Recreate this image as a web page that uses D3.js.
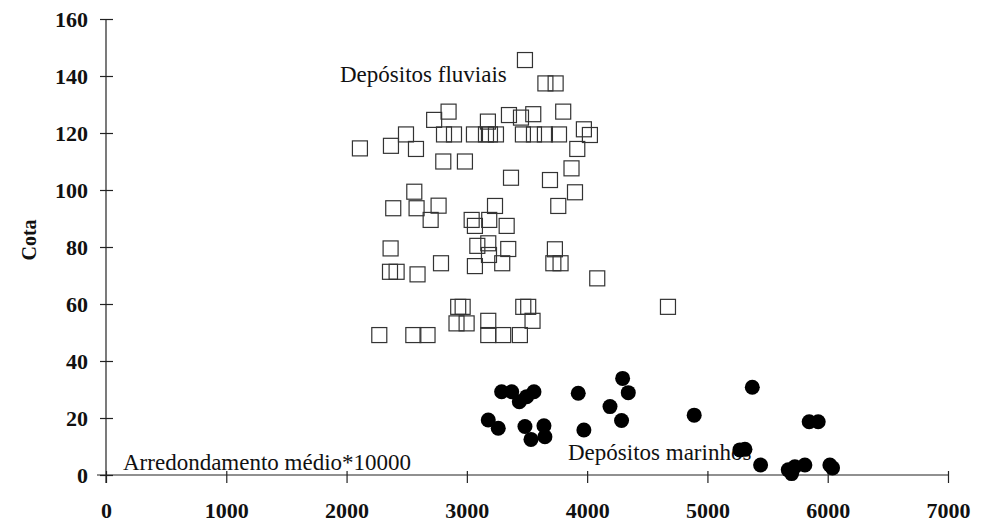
<!DOCTYPE html>
<html>
<head>
<meta charset="utf-8">
<script src="https://cdn.jsdelivr.net/npm/d3@7"></script>
<style>
  body { margin: 0; background: #fff; }
  svg text { font-family: "Liberation Serif", "Times New Roman", serif; fill: #111; }
</style>
</head>
<body>
<div id="chart"></div>
<script>
// depósitos fluviais (squares)
const fluvX = [3483, 3653, 3738, 2728, 2848, 2494, 2111, 2369, 2577,
  2810, 2893, 3059, 3159, 3192, 3242, 3466, 3558, 3649, 3766,
  3973, 4023, 3175, 3350, 3450, 3552, 3801, 3918, 3870, 2804, 2984,
  3367, 3691, 2563, 2388, 2582, 2765, 2699, 3040, 3067, 3186, 3234,
  3331, 3899, 3760, 2366, 2361, 2416, 2590, 2785, 3087, 3178, 3184,
  3344, 3294, 3067, 3732, 3719, 3779, 4084, 2965, 2928, 3469, 3510,
  2914, 2998, 3178, 3546, 2272, 2555, 2673, 3178, 3302, 3441, 4672]
const fluvY = [145.6, 137.4, 137.4, 124.6, 127.5, 119.5, 114.6, 115.5, 114.4,
  119.5, 119.5, 119.5, 119.5, 119.5, 119.5, 119.5, 119.5, 119.5, 119.5,
  121.3, 119.3, 124, 126.3, 125.4, 126.6, 127.5, 114.4, 107.6, 110, 110,
  104.3, 103.5, 99.4, 93.6, 93.6, 94.5, 89.5, 89.5, 87.4, 89.5, 94.4,
  87.4, 99.2, 94.4, 79.5, 71.3, 71.3, 70.4, 74.3, 80.4, 81.3, 77.2,
  79.3, 74.3, 73.3, 79.2, 74.3, 74.3, 69, 59, 59, 59, 59,
  53.2, 53.2, 54.1, 54.1, 49.1, 49.1, 49.1, 49.1, 49.1, 49.1, 59]

// depósitos marinhos (filled circles)
const marX = [3178, 3261, 3289, 3373, 3436, 3497, 3558, 3483, 3533, 3641, 3649,
  3926, 3973, 4190, 4286, 4295, 4342, 4890, 5373, 5846, 5921, 5270, 5312,
  5442, 5672, 5700, 5727, 5810, 6018, 6040]
const marY = [19.3, 16.4, 29.2, 29.2, 25.7, 27.5, 29.2, 17, 12.5, 17.3, 13.4,
  28.7, 15.8, 24, 19.1, 33.9, 28.9, 21, 30.8, 18.7, 18.7, 8.8, 9,
  3.5, 1.8, 0.5, 2.9, 3.5, 3.5, 2.5]

const xTicks = [0, 1000, 2000, 3000, 4000, 5000, 6000, 7000]
const yTicks = [0, 20, 40, 60, 80, 100, 120, 140, 160]

const width = 989, height = 524

const svg = d3.select("#chart").append("svg")
  .attr("width", width)
  .attr("height", height)

const x = d3.scaleLinear().domain([0, 7000]).range([106, 948])
const y = d3.scaleLinear().domain([0, 160]).range([475, 19])

// annotations go under the marks
svg.append("text")
  .attr("x", 123).attr("y", 470)
  .attr("font-size", 23)
  .text("Arredondamento médio*10000")

svg.append("text")
  .attr("x", 340).attr("y", 82)
  .attr("font-size", 23)
  .text("Depósitos fluviais")

svg.append("text")
  .attr("x", 568).attr("y", 460)
  .attr("font-size", 23)
  .text("Depósitos marinhos")

// axes
const gX = svg.append("g")
  .attr("transform", `translate(0,${y(0)})`)
  .call(d3.axisBottom(x).tickValues(xTicks).tickSize(0).tickPadding(0).tickFormat(d3.format("d")))
const gY = svg.append("g")
  .attr("transform", `translate(${x(0)},0)`)
  .call(d3.axisLeft(y).tickValues(yTicks).tickSize(0).tickPadding(0))

gX.select(".domain").remove()
gY.select(".domain").remove()

svg.append("line")
  .attr("x1", x(0) - 9).attr("x2", x(7000))
  .attr("y1", y(0)).attr("y2", y(0))
  .attr("stroke", "#222").attr("stroke-width", 1.2)
svg.append("line")
  .attr("x1", x(0)).attr("x2", x(0))
  .attr("y1", y(160)).attr("y2", y(0) + 8)
  .attr("stroke", "#222").attr("stroke-width", 1.2)

gX.selectAll(".tick line").attr("y1", -4).attr("y2", 8)
  .attr("stroke", "#222").attr("stroke-width", 1.2)
gY.selectAll(".tick line").attr("x1", -6).attr("x2", 7)
  .attr("stroke", "#222").attr("stroke-width", 1.2)

gX.selectAll(".tick text")
  .attr("y", 43).attr("dy", 0)
  .attr("font-size", 22).attr("font-weight", "bold")
  .style("font-family", "Liberation Serif, serif").attr("fill", "#111")
gY.selectAll(".tick text")
  .attr("x", -18).attr("dy", "0.35em")
  .attr("font-size", 22).attr("font-weight", "bold")
  .style("font-family", "Liberation Serif, serif").attr("fill", "#111")

svg.append("text")
  .attr("transform", "translate(36,240) rotate(-90)")
  .attr("text-anchor", "middle")
  .attr("font-size", 20).attr("font-weight", "bold")
  .text("Cota")

// marks
const side = 15
svg.selectAll(".sq")
  .data(fluvX)
  .enter()
  .append("rect")
  .attr("class", "sq")
  .attr("x", (d, i) => x(d) - side / 2)
  .attr("y", (d, i) => y(fluvY[i]) - side / 2)
  .attr("width", side)
  .attr("height", side)
  .attr("fill", "none")
  .attr("stroke", "#333")
  .attr("stroke-width", 1.2)

svg.selectAll(".dot")
  .data(marX)
  .enter()
  .append("circle")
  .attr("class", "dot")
  .attr("cx", d => x(d))
  .attr("cy", (d, i) => y(marY[i]))
  .attr("r", 7.5)
  .attr("fill", "#000")
</script>
</body>
</html>
